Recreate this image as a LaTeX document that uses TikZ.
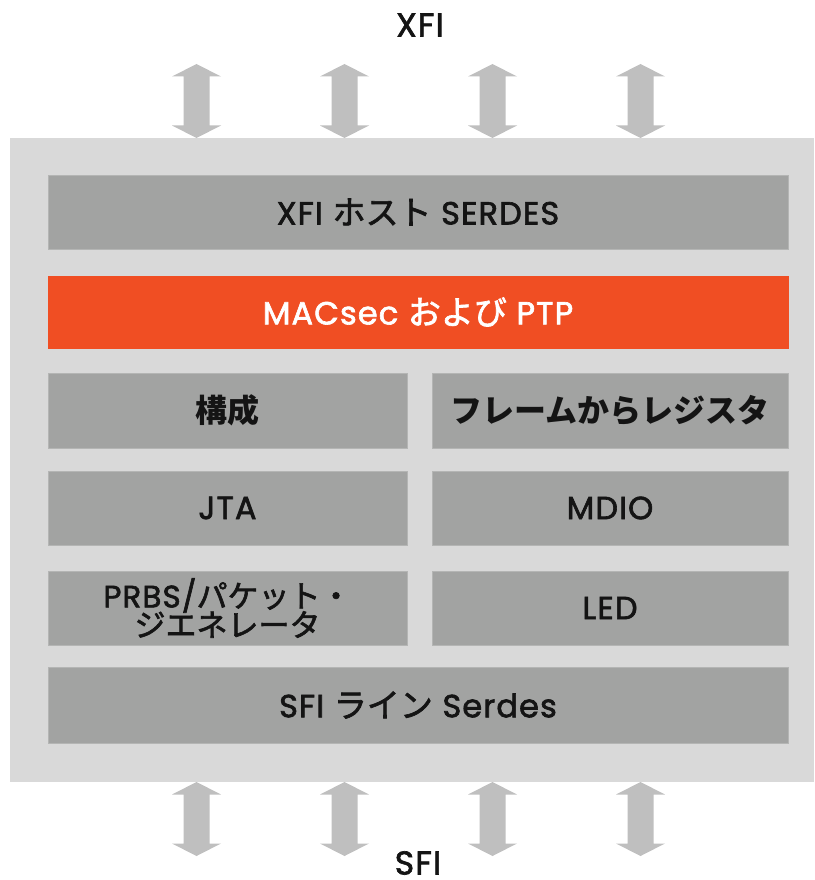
\documentclass[tikz,border=0pt]{standalone}
\usepackage{fontspec}
\setmainfont{Poppins}[FakeBold=2, LetterSpace=3.5]
\newfontfamily\jp{Noto Sans CJK JP}[FakeBold=2]
\newfontfamily\jpb{Noto Sans CJK JP}
\definecolor{panel}{HTML}{D9D9D9}
\definecolor{boxgray}{HTML}{A2A3A2}
\definecolor{boxedge}{HTML}{B4B5B4}
\definecolor{arrowgray}{HTML}{BFBFBF}
\definecolor{accent}{HTML}{F04E23}
\definecolor{ink}{HTML}{141414}
\newcommand{\J}[1]{{\jp\fontsize{33}{34}\selectfont #1}}
\newcommand{\JB}[1]{{\jpb\bfseries\fontsize{32}{34}\selectfont #1}}
\begin{document}
\begin{tikzpicture}[x=1pt,y=-1pt,
  blk/.style={rectangle, fill=boxgray, draw=boxedge, line width=0.8pt, inner sep=0pt, outer sep=0pt, anchor=north west, align=center, text=ink, font=\fontsize{32}{34}\selectfont},
  hot/.style={blk, fill=accent, draw=accent, text=white},
  updown/.style={fill=arrowgray},
  title/.style={text=ink, font=\fontsize{33}{36}\selectfont, inner sep=0pt}
]
\useasboundingbox (0,0) rectangle (814,880);
% arrows
\foreach \c in {196.5,344.5,492.5,640.5}{
  \foreach \t/\b in {64/138, 782/856}{
    \fill[updown] (\c,\t) -- (\c+24.5,\t+12.5) -- (\c+13,\t+12.5) -- (\c+13,\b-12.5) -- (\c+24.5,\b-12.5) -- (\c,\b) -- (\c-24.5,\b-12.5) -- (\c-13,\b-12.5) -- (\c-13,\t+12.5) -- (\c-24.5,\t+12.5) -- cycle;
  }
}
% panel
\fill[panel] (10,138) rectangle (814,781.5);
\node[title] (xfi) at (420,25) {XFI};
\node[title] (sfi) at (418,863) {SFI};
\node[blk, minimum width=740pt, minimum height=74pt] (host) at (48,175) {XFI \J{ホスト} SERDES};
\node[hot, minimum width=740pt, minimum height=72pt] (mac) at (48,276) {MACsec \J{および} PTP};
\node[blk, minimum width=359pt, minimum height=75pt] (cfg) at (48,373) {\JB{構成}};
\node[blk, minimum width=356pt, minimum height=75pt] (f2r) at (432,373) {\JB{フレームからレジスタ}};
\node[blk, minimum width=359pt, minimum height=74pt] (jta) at (48,471) {JTA};
\node[blk, minimum width=356pt, minimum height=74pt] (mdio) at (432,471) {MDIO};
\node[blk, minimum width=359pt, minimum height=74pt, font=\fontsize{31}{32}\selectfont] (prbs) at (48,571) {PRBS/{\jp\fontsize{31}{32}\selectfont パケット・}\\[-3pt]{\jp\fontsize{31}{32}\selectfont ジエネレータ}};
\node[blk, minimum width=356pt, minimum height=74pt] (led) at (432,571) {LED};
\node[blk, minimum width=740pt, minimum height=76pt] (line) at (48,667) {SFI \J{ライン} Serdes};
\end{tikzpicture}
\end{document}
